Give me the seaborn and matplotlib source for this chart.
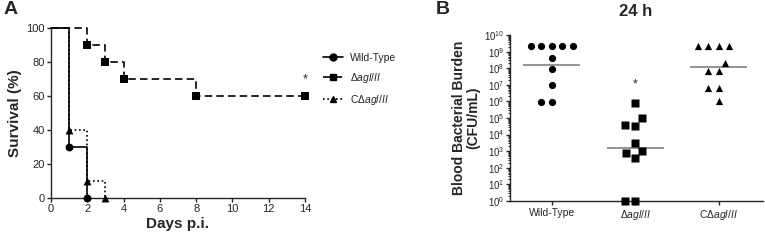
import numpy as np
import pandas as pd
import matplotlib
matplotlib.use('Agg')
import matplotlib.pyplot as plt
import matplotlib.ticker as mticker
from matplotlib.lines import Line2D
import seaborn as sns

# Panel A - survival (%) by day post infection
days_wt = [0, 1, 2]
surv_wt = [100, 30, 0]
days_del = [0, 2, 3, 4, 8, 14]
surv_del = [100, 90, 80, 70, 60, 60]
days_comp = [0, 1, 2, 3]
surv_comp = [100, 40, 10, 0]

# Panel B - blood bacterial burden at 24 h (CFU/mL)
groups = ['Wild-Type', 'dagl', 'Cdagl']
group_labels = ['Wild-Type', 'Δ$\\mathit{agl/II}$', 'CΔ$\\mathit{agl/II}$']
cfu_wt = [2.2e9, 2.2e9, 2.2e9, 2.2e9, 2.2e9, 4.3e8, 8.5e7, 1e7, 9e5, 9e5]
cfu_del = [7.6e5, 9.6e4, 3.8e4, 3.3e4, 3.2e3, 1.07e3, 7.5e2, 3.9e2, 1, 1]
cfu_comp = [2.2e9, 2.2e9, 2.2e9, 2.2e9, 2.1e8, 6.8e7, 6.8e7, 6.3e6, 6.3e6, 1.1e6]

sns.set_style('ticks')
plt.rcParams['font.family'] = ['Liberation Sans', 'DejaVu Sans']
plt.rcParams['mathtext.fontset'] = 'custom'
plt.rcParams['mathtext.rm'] = 'Liberation Sans'
plt.rcParams['mathtext.it'] = 'Liberation Sans:italic'
plt.rcParams['mathtext.bf'] = 'Liberation Sans:bold'
plt.rcParams['axes.linewidth'] = 1.0

fig = plt.figure(figsize=(7.65, 2.4), dpi=100)
axA = fig.add_axes([51/765, 42/240, 254/765, 170/240])
axB = fig.add_axes([510/765, 39/240, 253/765, 166/240])

# ---- panel A: Kaplan-Meier style steps
styles = [
    (days_wt, surv_wt, '-', 'o', 'Wild-Type'),
    (days_del, surv_del, (0, (4.5, 2.5)), 's', 'Δ$\\mathit{agl/II}$'),
    (days_comp, surv_comp, (0, (1, 1.6)), '^', 'CΔ$\\mathit{agl/II}$'),
]
handles = []
for d, s, ls, mk, lab in styles:
    df = pd.DataFrame({'day': d, 'surv': s})
    sns.lineplot(data=df, x='day', y='surv', drawstyle='steps-post', color='black',
                 linestyle=ls, linewidth=1.2, ax=axA, clip_on=False)
    sns.scatterplot(data=df.iloc[1:], x='day', y='surv', marker=mk, color='black',
                    s=32, linewidth=0, ax=axA, clip_on=False, zorder=5)
    handles.append(Line2D([], [], color='black', linestyle=ls, linewidth=1.2,
                          marker=mk, markersize=5, label=lab))

axA.set_xlim(0, 14)
axA.set_ylim(0, 100)
axA.set_xticks(range(0, 15, 2))
axA.set_yticks(range(0, 101, 20))
axA.set_xlabel('Days p.i.', fontsize=11, fontweight='bold', labelpad=2)
axA.set_ylabel('Survival (%)', fontsize=11, fontweight='bold', labelpad=3)
axA.tick_params(labelsize=8, length=3, width=1, pad=1.5)
sns.despine(ax=axA)
axA.text(14, 70, '*', fontsize=9, ha='center', va='center', clip_on=False)

fig.legend(handles=handles, loc='upper left', bbox_to_anchor=(323/765, 1 - 53/240),
           frameon=False, fontsize=7.5, handlelength=1.9, handletextpad=0.7,
           labelspacing=0.75, borderpad=0, borderaxespad=0)

# ---- panel B: scatter of CFU with geometric mean lines
burden = pd.DataFrame({
    'group': [groups[0]] * len(cfu_wt) + [groups[1]] * len(cfu_del) + [groups[2]] * len(cfu_comp),
    'cfu': cfu_wt + cfu_del + cfu_comp,
})
# invisible edge widens the swarm spacing like the original
for g, mk in zip(groups, ['o', 's', '^']):
    sns.swarmplot(data=burden[burden.group == g], x='group', y='cfu', order=groups,
                  marker=mk, color='black', size=5.2, linewidth=2.0,
                  edgecolor=(0, 0, 0, 0), log_scale=True, ax=axB, zorder=5)

# empty collections left by the per-group calls
for c in list(axB.collections):
    if len(c.get_offsets()) == 0:
        c.remove()
for c in axB.collections:
    c.set_clip_on(False)

for i, g in enumerate(groups):
    gm = 10 ** np.mean(np.log10(burden.loc[burden.group == g, 'cfu']))
    axB.hlines(gm, i - 0.34, i + 0.34, color='#777777', linewidth=1.1, zorder=3)

axB.set_yscale('log')
axB.set_ylim(1, 1e10)
axB.set_xlim(-0.5, 2.53)
axB.yaxis.set_major_locator(mticker.LogLocator(base=10, numticks=12))
axB.yaxis.set_minor_locator(mticker.LogLocator(base=10, subs=np.arange(2, 10), numticks=12))
axB.yaxis.set_minor_formatter(mticker.NullFormatter())
axB.set_xticks(range(3))
axB.set_xticklabels(group_labels)
axB.set_xlabel('')
axB.set_ylabel('Blood Bacterial Burden\n(CFU/mL)', fontsize=10, fontweight='bold',
               labelpad=3, linespacing=1.0)
axB.tick_params(axis='y', labelsize=7, length=3, width=1, pad=1)
axB.tick_params(axis='y', which='minor', length=1.8, width=0.8)
axB.tick_params(axis='x', labelsize=7.5, length=3, width=1, pad=2)
sns.despine(ax=axB)
axB.text(1, 1e7, '*', fontsize=9, ha='center', va='center')

fig.text(11/765, 1 - 10/240, 'A', fontsize=14, fontweight='bold', ha='center', va='center')
fig.text(443/765, 1 - 10/240, 'B', fontsize=14, fontweight='bold', ha='center', va='center')
fig.text(636/765, 1 - 11/240, '24 h', fontsize=12, fontweight='bold', ha='center', va='center')

fig.savefig('out.png', dpi=100)
